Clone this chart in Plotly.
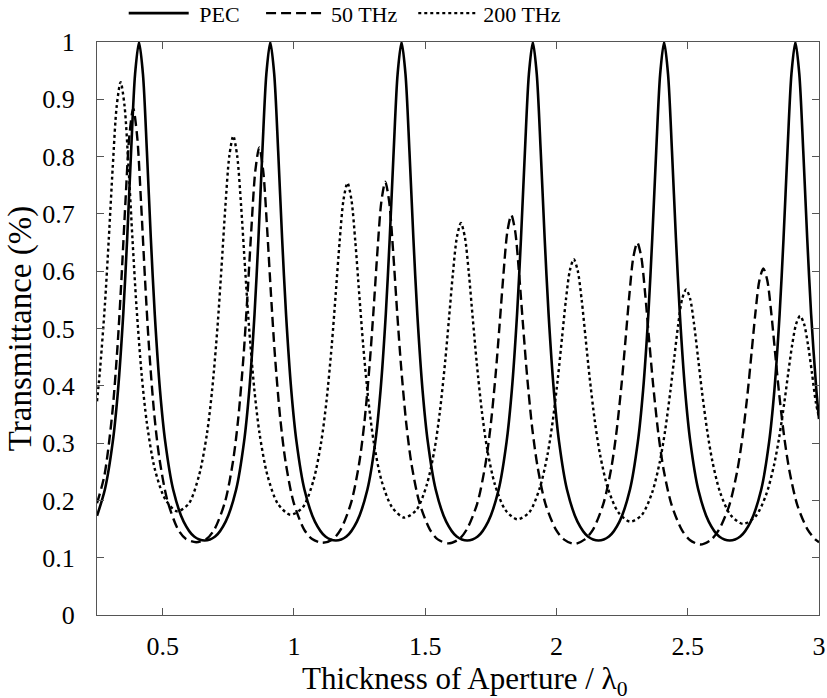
import plotly.graph_objects as go

# thickness of aperture / lambda0 and transmittance
pec_x = [0.25, 0.28, 0.31, 0.33, 0.35, 0.365, 0.38, 0.395, 0.41,
         0.425, 0.44, 0.455, 0.47, 0.49, 0.51, 0.54, 0.58, 0.62, 0.66,
         0.70, 0.74, 0.78, 0.81, 0.83, 0.85, 0.865, 0.88, 0.895, 0.91,
         0.925, 0.94, 0.955, 0.97, 0.99, 1.01, 1.04, 1.08, 1.12, 1.16,
         1.20, 1.24, 1.28, 1.31, 1.33, 1.35, 1.365, 1.38, 1.395, 1.41,
         1.425, 1.44, 1.455, 1.47, 1.49, 1.51, 1.54, 1.58, 1.62, 1.66,
         1.70, 1.74, 1.78, 1.81, 1.83, 1.85, 1.865, 1.88, 1.895, 1.91,
         1.925, 1.94, 1.955, 1.97, 1.99, 2.01, 2.04, 2.08, 2.12, 2.16,
         2.20, 2.24, 2.28, 2.31, 2.33, 2.35, 2.365, 2.38, 2.395, 2.41,
         2.425, 2.44, 2.455, 2.47, 2.49, 2.51, 2.54, 2.58, 2.62, 2.66,
         2.70, 2.74, 2.78, 2.81, 2.83, 2.85, 2.865, 2.88, 2.895, 2.91,
         2.925, 2.94, 2.955, 2.97, 2.99, 3.0]
pec_y = [0.173, 0.219, 0.302, 0.392, 0.525, 0.658, 0.810, 0.944, 1.0,
         0.944, 0.810, 0.658, 0.525, 0.392, 0.302, 0.219, 0.163, 0.137, 0.130,
         0.137, 0.163, 0.219, 0.302, 0.392, 0.525, 0.658, 0.810, 0.944, 1.0,
         0.944, 0.810, 0.658, 0.525, 0.392, 0.302, 0.219, 0.163, 0.137, 0.130,
         0.137, 0.163, 0.219, 0.302, 0.392, 0.525, 0.658, 0.810, 0.944, 1.0,
         0.944, 0.810, 0.658, 0.525, 0.392, 0.302, 0.219, 0.163, 0.137, 0.130,
         0.137, 0.163, 0.219, 0.302, 0.392, 0.525, 0.658, 0.810, 0.944, 1.0,
         0.944, 0.810, 0.658, 0.525, 0.392, 0.302, 0.219, 0.163, 0.137, 0.130,
         0.137, 0.163, 0.219, 0.302, 0.392, 0.525, 0.658, 0.810, 0.944, 1.0,
         0.944, 0.810, 0.658, 0.525, 0.392, 0.302, 0.219, 0.163, 0.137, 0.130,
         0.137, 0.163, 0.219, 0.302, 0.392, 0.525, 0.658, 0.810, 0.944, 1.0,
         0.944, 0.810, 0.658, 0.525, 0.392, 0.342]

thz50_x = [0.25, 0.278, 0.308, 0.328, 0.343, 0.358, 0.373, 0.388,
           0.403, 0.418, 0.433, 0.448, 0.468, 0.488, 0.518, 0.558, 0.588, 0.628,
           0.668, 0.698, 0.738, 0.768, 0.788, 0.808, 0.823, 0.838, 0.853, 0.868,
           0.883, 0.898, 0.913, 0.928, 0.948, 0.968, 0.998, 1.038, 1.068, 1.108,
           1.148, 1.178, 1.218, 1.248, 1.268, 1.288, 1.303, 1.318, 1.333, 1.348,
           1.363, 1.378, 1.393, 1.408, 1.428, 1.448, 1.478, 1.518, 1.548, 1.588,
           1.628, 1.658, 1.698, 1.728, 1.748, 1.768, 1.783, 1.798, 1.813, 1.828,
           1.843, 1.858, 1.873, 1.888, 1.908, 1.928, 1.958, 1.998, 2.028, 2.068,
           2.108, 2.138, 2.178, 2.208, 2.228, 2.248, 2.263, 2.278, 2.293, 2.308,
           2.323, 2.338, 2.353, 2.368, 2.388, 2.408, 2.438, 2.478, 2.508, 2.548,
           2.588, 2.618, 2.658, 2.688, 2.708, 2.728, 2.743, 2.758, 2.773, 2.788,
           2.803, 2.818, 2.833, 2.848, 2.868, 2.888, 2.918, 2.958, 2.988, 3.0]
thz50_y = [0.195, 0.243, 0.351, 0.468, 0.585, 0.718, 0.835, 0.884,
           0.835, 0.718, 0.585, 0.468, 0.351, 0.272, 0.200, 0.150, 0.133, 0.127,
           0.133, 0.150, 0.198, 0.268, 0.343, 0.451, 0.557, 0.674, 0.775, 0.816,
           0.775, 0.674, 0.557, 0.451, 0.343, 0.268, 0.198, 0.150, 0.133, 0.126,
           0.132, 0.149, 0.196, 0.263, 0.334, 0.435, 0.530, 0.634, 0.721, 0.756,
           0.721, 0.634, 0.530, 0.435, 0.334, 0.263, 0.196, 0.149, 0.132, 0.125,
           0.132, 0.149, 0.194, 0.259, 0.325, 0.418, 0.504, 0.594, 0.669, 0.698,
           0.669, 0.594, 0.504, 0.418, 0.325, 0.259, 0.194, 0.149, 0.132, 0.124,
           0.132, 0.148, 0.193, 0.254, 0.317, 0.403, 0.480, 0.560, 0.625, 0.650,
           0.625, 0.560, 0.480, 0.403, 0.317, 0.254, 0.193, 0.148, 0.131, 0.123,
           0.131, 0.148, 0.191, 0.250, 0.309, 0.387, 0.457, 0.528, 0.584, 0.605,
           0.584, 0.528, 0.457, 0.387, 0.309, 0.250, 0.191, 0.148, 0.131, 0.127]

thz200_x = [0.25, 0.26, 0.28, 0.295, 0.31, 0.325, 0.34,
            0.355, 0.37, 0.385, 0.40, 0.42, 0.44, 0.47, 0.51, 0.5545,
            0.599, 0.639, 0.669, 0.689, 0.709, 0.724, 0.739, 0.754, 0.769,
            0.784, 0.799, 0.814, 0.829, 0.849, 0.869, 0.899, 0.939, 0.9865,
            1.034, 1.074, 1.104, 1.124, 1.144, 1.159, 1.174, 1.189, 1.204,
            1.219, 1.234, 1.249, 1.264, 1.284, 1.304, 1.334, 1.374, 1.42,
            1.466, 1.506, 1.536, 1.556, 1.576, 1.591, 1.606, 1.621, 1.636,
            1.651, 1.666, 1.681, 1.696, 1.716, 1.736, 1.766, 1.806, 1.851,
            1.896, 1.936, 1.966, 1.986, 2.006, 2.021, 2.036, 2.051, 2.066,
            2.081, 2.096, 2.111, 2.126, 2.146, 2.166, 2.196, 2.236, 2.28,
            2.324, 2.364, 2.394, 2.414, 2.434, 2.449, 2.464, 2.479, 2.494,
            2.509, 2.524, 2.539, 2.554, 2.574, 2.594, 2.624, 2.664, 2.711,
            2.758, 2.798, 2.828, 2.848, 2.868, 2.883, 2.898, 2.913, 2.928,
            2.943, 2.958, 2.973, 2.988, 3.0]
thz200_y = [0.373, 0.420, 0.541, 0.657, 0.782, 0.888, 0.930,
            0.888, 0.782, 0.657, 0.541, 0.420, 0.335, 0.255, 0.202, 0.181,
            0.194, 0.244, 0.317, 0.395, 0.503, 0.605, 0.713, 0.801, 0.836,
            0.801, 0.713, 0.605, 0.503, 0.395, 0.317, 0.244, 0.194, 0.175,
            0.188, 0.234, 0.302, 0.373, 0.470, 0.559, 0.651, 0.725, 0.754,
            0.725, 0.651, 0.559, 0.470, 0.373, 0.302, 0.234, 0.188, 0.170,
            0.183, 0.227, 0.290, 0.355, 0.442, 0.519, 0.598, 0.660, 0.684,
            0.660, 0.598, 0.519, 0.442, 0.355, 0.290, 0.227, 0.183, 0.167,
            0.179, 0.221, 0.280, 0.339, 0.416, 0.483, 0.550, 0.601, 0.621,
            0.601, 0.550, 0.483, 0.416, 0.339, 0.280, 0.221, 0.179, 0.163,
            0.174, 0.213, 0.268, 0.322, 0.391, 0.450, 0.508, 0.552, 0.568,
            0.552, 0.508, 0.450, 0.391, 0.322, 0.268, 0.213, 0.174, 0.159,
            0.172, 0.209, 0.260, 0.309, 0.371, 0.423, 0.472, 0.508, 0.522,
            0.508, 0.472, 0.423, 0.371, 0.345]

x_ticks = [0.5, 1, 1.5, 2, 2.5, 3]
x_ticktext = ["0.5", "1", "1.5", "2", "2.5", "3"]
y_ticks = [0, 0.1, 0.2, 0.3, 0.4, 0.5, 0.6, 0.7, 0.8, 0.9, 1]
y_ticktext = ["0", "0.1", "0.2", "0.3", "0.4", "0.5", "0.6", "0.7", "0.8", "0.9", "1"]

serif = "Liberation Serif, Times New Roman, serif"
nb = "\u00a0"

fig = go.Figure()
fig.add_trace(go.Scatter(x=pec_x, y=pec_y, name=nb + "PEC" + nb * 3, mode="lines",
                         line=dict(color="black", width=2.6, shape="spline", smoothing=0.8)))
fig.add_trace(go.Scatter(x=thz50_x, y=thz50_y, name="50 THz" + nb * 2, mode="lines",
                         line=dict(color="black", width=2.4, dash="10px,5px",
                                   shape="spline", smoothing=0.8)))
fig.add_trace(go.Scatter(x=thz200_x, y=thz200_y, name="200 THz", mode="lines",
                         line=dict(color="black", width=2.4, dash="3px,3px",
                                   shape="spline", smoothing=0.8)))

axis_common = dict(showline=True, linecolor="#555", linewidth=1.2, mirror="ticks",
                   ticks="inside", ticklen=7, tickcolor="#555", showgrid=False,
                   zeroline=False, automargin=False,
                   tickfont=dict(family=serif, size=26, color="black"))

fig.update_xaxes(range=[0.25, 3], tickvals=x_ticks, ticktext=x_ticktext,
                 ticklabelstandoff=8, **axis_common)
fig.update_yaxes(range=[0, 1], tickvals=y_ticks, ticktext=y_ticktext,
                 ticklabelstandoff=16,
                 title=dict(text="Transmittance (%)",
                            font=dict(family=serif, size=33, color="black"), standoff=0),
                 **axis_common)

# x title as an annotation so it can sit a little lower than the axis title allows
fig.add_annotation(text="Thickness of Aperture / λ<sub>0</sub>", xref="paper", yref="paper",
                   x=0.51, y=-0.077, xanchor="center", yanchor="top", showarrow=False,
                   font=dict(family=serif, size=31, color="black"))

fig.update_layout(
    width=827, height=698,
    margin=dict(l=97, r=8, t=42, b=83, autoexpand=False),
    plot_bgcolor="white", paper_bgcolor="white",
    font=dict(family=serif, color="black"),
    legend=dict(orientation="h", x=0.037, xanchor="left", y=1.05, yanchor="middle",
                font=dict(family=serif, size=22, color="black"),
                itemwidth=60, bgcolor="rgba(0,0,0,0)"),
)

# drop the page's default body margin so the figure sits at the top-left corner
fig.write_html("out.html", config={"displayModeBar": False},
               post_script="document.body.style.margin = '0';")
